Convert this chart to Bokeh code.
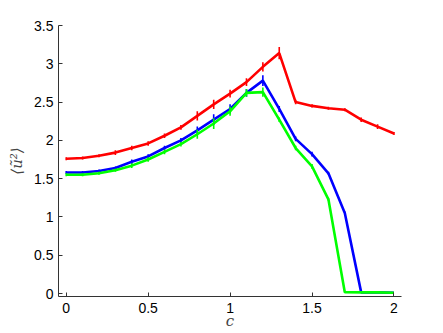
from bokeh.plotting import figure
from bokeh.models import Range1d, FixedTicker, NumeralTickFormatter
from bokeh.embed import file_html
from bokeh.resources import INLINE

c_vals = [0.0, 0.1, 0.2, 0.3, 0.4, 0.5, 0.6, 0.7, 0.8, 0.9, 1.0,
          1.1, 1.2, 1.3, 1.4, 1.5, 1.6, 1.7, 1.8, 1.9, 2.0]

red_y = [1.76, 1.77, 1.80, 1.84, 1.90, 1.96, 2.06, 2.17, 2.32, 2.47, 2.61,
         2.76, 2.96, 3.14, 2.50, 2.45, 2.42, 2.40, 2.27, 2.18, 2.09]
blue_y = [1.58, 1.58, 1.60, 1.64, 1.72, 1.79, 1.90, 2.00, 2.13, 2.27, 2.41,
          2.62, 2.78, 2.41, 2.02, 1.82, 1.57, 1.05, 0.015, 0.015, 0.01]
green_y = [1.55, 1.55, 1.57, 1.61, 1.67, 1.75, 1.85, 1.95, 2.08, 2.22, 2.38,
           2.62, 2.63, 2.27, 1.90, 1.66, 1.23, 0.017, 0.015, 0.015, 0.01]

red_err = [0.02, 0.02, 0.02, 0.03, 0.03, 0.03, 0.03, 0.03, 0.06, 0.06, 0.05,
           0.05, 0.06, 0.08, 0.03, 0.02, 0.02, 0.02, 0.03, 0.03, 0.02]
blue_err = [0.02, 0.02, 0.02, 0.02, 0.03, 0.03, 0.03, 0.03, 0.05, 0.07, 0.06,
            0.05, 0.07, 0.04, 0.03, 0.03, 0.02, 0.02, 0.0, 0.0, 0.0]
green_err = [0.02, 0.02, 0.02, 0.02, 0.03, 0.03, 0.03, 0.03, 0.06, 0.07, 0.06,
             0.05, 0.06, 0.03, 0.03, 0.03, 0.02, 0.0, 0.0, 0.0, 0.0]

x_ticks = [0, 0.5, 1, 1.5, 2]
y_ticks = [0, 0.5, 1, 1.5, 2, 2.5, 3, 3.5]

p = figure(frame_width=343, frame_height=271,
           min_border_left=58, min_border_right=34,
           min_border_top=25, min_border_bottom=34,
           x_range=Range1d(-0.047, 2.046), y_range=Range1d(-0.039, 3.5),
           output_backend="svg", toolbar_location=None)
p.outline_line_color = None
p.grid.visible = False
p.background_fill_color = "white"
p.border_fill_color = "white"

series = [(red_y, red_err, "#ff0000"), (blue_y, blue_err, "#0000ff"),
          (green_y, green_err, "#00ff00")]
for ys, errs, col in series:
    p.line(c_vals, ys, line_color=col, line_width=2.6)
    lo = [y - e for y, e in zip(ys, errs)]
    hi = [y + e for y, e in zip(ys, errs)]
    p.segment(x0=c_vals, y0=lo, x1=c_vals, y1=hi, line_color=col, line_width=1.6)

for ax in (p.xaxis[0], p.yaxis[0]):
    ax.axis_line_color = "#333333"
    ax.major_tick_line_color = "#333333"
    ax.major_tick_in = 4
    ax.major_tick_out = 0
    ax.minor_tick_line_color = None
    ax.major_label_text_font = "Liberation Sans"
    ax.major_label_text_font_size = "14px"
    ax.major_label_text_color = "#000000"
    ax.formatter = NumeralTickFormatter(format="0.[0]")

p.xaxis[0].ticker = FixedTicker(ticks=x_ticks)
p.yaxis[0].ticker = FixedTicker(ticks=y_ticks)
p.xaxis[0].major_label_standoff = 6
p.yaxis[0].major_label_standoff = 5

p.yaxis[0].axis_label = "⟨ũ²⟩"
p.yaxis[0].axis_label_text_font = "DejaVu Serif"
p.yaxis[0].axis_label_text_font_style = "italic"
p.yaxis[0].axis_label_text_font_size = "15px"
p.yaxis[0].axis_label_standoff = 5

p.xaxis[0].axis_label = "c"
p.xaxis[0].axis_label_text_font = "DejaVu Serif"
p.xaxis[0].axis_label_text_font_style = "italic"
p.xaxis[0].axis_label_text_font_size = "15px"
p.xaxis[0].axis_label_standoff = -4

open("out.html", "w").write(file_html(p, INLINE))
